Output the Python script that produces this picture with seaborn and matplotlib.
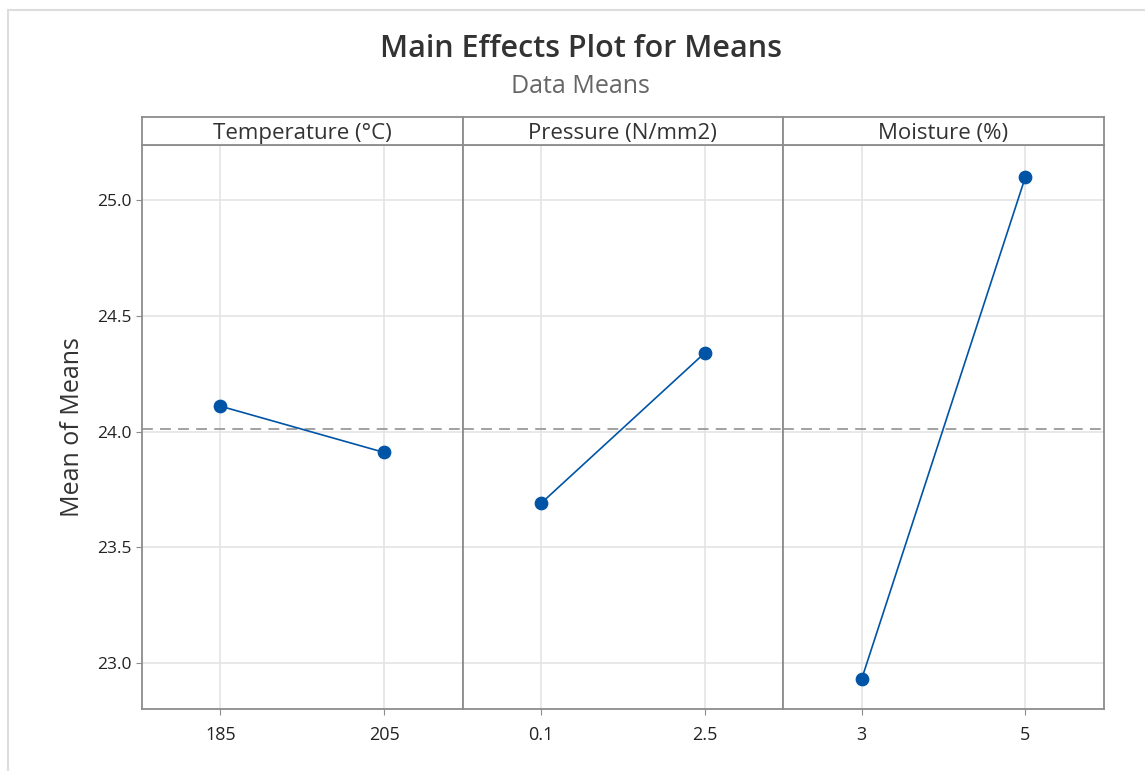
import pandas as pd
import matplotlib.pyplot as plt
import matplotlib.patches as mpatches
import seaborn as sns

# Factor names and levels (Minitab main effects)
factors = ["Temperature (°C)", "Pressure (N/mm2)", "Moisture (%)"]
temp_levels = ["185", "205"]
temp_means = [24.11, 23.91]
pressure_levels = ["0.1", "2.5"]
pressure_means = [23.69, 24.34]
moisture_levels = ["3", "5"]
moisture_means = [22.93, 25.10]
grand_mean = 24.013
y_ticks = [23.0, 23.5, 24.0, 24.5, 25.0]

levels = [temp_levels, pressure_levels, moisture_levels]
means = [temp_means, pressure_means, moisture_means]

blue = "#0054A6"
frame = "#8c8c8c"

sns.set_style("white")
plt.rcParams["font.family"] = ["Open Sans", "DejaVu Sans"]

fig = plt.figure(figsize=(11.45, 7.71), dpi=100)

left, right = 0.124, 0.964
bottom, top = 0.0804, 0.812
strip_h = 28 / 771
w = (right - left) / 3

axes = []
for i in range(3):
    ax = fig.add_axes([left + i * w, bottom, w, top - bottom],
                      sharey=axes[0] if axes else None)
    axes.append(ax)
    df = pd.DataFrame({"level": levels[i], "mean": means[i]})
    sns.pointplot(data=df, x="level", y="mean", order=levels[i], color=blue,
                  markers="o", markersize=9, linewidth=1.2, ax=ax, zorder=3)
    ax.axhline(grand_mean, color="#9a9a9a", ls=(0, (6, 4)), lw=1.3, zorder=2)
    ax.set_xlim(-0.48, 1.48)
    ax.set_ylim(22.80, 25.24)
    ax.set_yticks(y_ticks)
    ax.grid(True, color="#e4e4e4", lw=1.2, zorder=0)
    ax.set_axisbelow(True)
    ax.set_xlabel("")
    ax.set_ylabel("")
    for s in ax.spines.values():
        s.set_color(frame)
        s.set_linewidth(1.3)
    ax.tick_params(axis="x", length=4, color=frame, labelsize=13,
                   labelcolor="#222222", pad=8, bottom=True)
    if i == 0:
        ax.tick_params(axis="y", length=4, color=frame, labelsize=12.5,
                       labelcolor="#222222", left=True)
        ax.set_yticklabels([f"{v:.1f}" for v in y_ticks])
    else:
        ax.tick_params(axis="y", left=False, labelleft=False)

    # strip header
    sax = fig.add_axes([left + i * w, top, w, strip_h])
    sax.set_xticks([])
    sax.set_yticks([])
    for s in sax.spines.values():
        s.set_color(frame)
        s.set_linewidth(1.3)
    sax.text(0.5, 0.42, factors[i], ha="center", va="center",
             fontsize=16, color="#333333", transform=sax.transAxes)

axes[0].set_ylabel("Mean of Means", fontsize=18, color="#333333", labelpad=9)

fig.text(0.507, 0.937, "Main Effects Plot for Means", ha="center", va="center",
         fontsize=22, color="#333333", fontweight="semibold")
fig.text(0.507, 0.888, "Data Means", ha="center", va="center",
         fontsize=18, color="#666666")

# faint screenshot frame
fig.add_artist(mpatches.Rectangle((8 / 1145, -0.01), 1.2, 1 - 10 / 771 + 0.01,
                                  transform=fig.transFigure, fill=False,
                                  edgecolor="#dddddd", lw=1.5))

fig.savefig("out.png", dpi=100, facecolor="white")
